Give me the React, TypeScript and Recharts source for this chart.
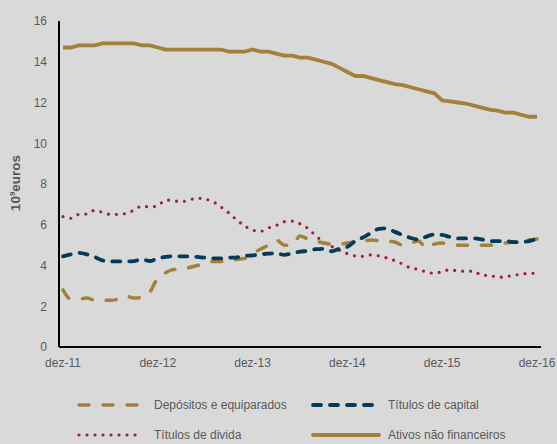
import { LineChart, Line, XAxis, YAxis } from 'recharts';

const MONTHS = ['jan', 'fev', 'mar', 'abr', 'mai', 'jun', 'jul', 'ago', 'set', 'out', 'nov', 'dez'];
const YEARS = [12, 13, 14, 15, 16];
const PERIODS = ['dez-11', ...YEARS.flatMap((y) => MONTHS.map((m) => `${m}-${y}`))];
const X_TICKS = ['dez-11', 'dez-12', 'dez-13', 'dez-14', 'dez-15', 'dez-16'];
const Y_TICKS = [0, 2, 4, 6, 8, 10, 12, 14, 16];

// 10^9 euros, monthly dez-11 .. dez-16
const DEPOSITOS = [
  2.8, 2.35, 2.35, 2.4, 2.3, 2.3, 2.3, 2.35, 2.5, 2.4, 2.45, 2.7,
  3.4, 3.65, 3.8, 3.8, 3.9, 4.0, 4.1, 4.2, 4.2, 4.2, 4.3, 4.35,
  4.6, 4.8, 5.0, 5.25, 5.0, 5.0, 5.45, 5.3, 5.2, 5.1, 5.05, 5.05,
  5.1, 5.15, 5.2, 5.25, 5.22, 5.2, 5.15, 5.0, 5.1, 5.2, 4.85, 5.05,
  5.1, 5.0, 5.0, 5.0, 5.0, 5.0, 5.0, 5.05, 5.1, 5.15, 5.2, 5.25, 5.3,
];
const TITULOS_CAPITAL = [
  4.45, 4.55, 4.62, 4.55, 4.42, 4.25, 4.2, 4.2, 4.2, 4.22, 4.3, 4.22,
  4.35, 4.42, 4.45, 4.45, 4.45, 4.42, 4.38, 4.35, 4.35, 4.38, 4.4, 4.47,
  4.5, 4.55, 4.58, 4.6, 4.52, 4.6, 4.68, 4.72, 4.8, 4.82, 4.7, 4.82,
  4.92, 5.2, 5.38, 5.6, 5.8, 5.82, 5.65, 5.5, 5.35, 5.28, 5.42, 5.52,
  5.5, 5.4, 5.33, 5.33, 5.33, 5.28, 5.2, 5.2, 5.2, 5.15, 5.15, 5.2, 5.3,
];
const TITULOS_DIVIDA = [
  6.4, 6.32, 6.51, 6.53, 6.71, 6.61, 6.51, 6.51, 6.56, 6.72, 6.92, 6.87,
  6.94, 7.21, 7.18, 7.13, 7.23, 7.3, 7.26, 7.13, 6.87, 6.58, 6.23, 5.94,
  5.74, 5.68, 5.84, 5.97, 6.15, 6.18, 6.05, 5.82, 5.46, 5.14, 4.94, 4.75,
  4.58, 4.47, 4.45, 4.52, 4.47, 4.37, 4.24, 4.07, 3.88, 3.81, 3.68, 3.62,
  3.7, 3.8, 3.73, 3.72, 3.72, 3.52, 3.52, 3.42, 3.45, 3.52, 3.57, 3.62, 3.62,
];
const ATIVOS_NAO_FIN = [
  14.7, 14.7, 14.8, 14.8, 14.8, 14.9, 14.9, 14.9, 14.9, 14.9, 14.8, 14.8,
  14.7, 14.6, 14.6, 14.6, 14.6, 14.6, 14.6, 14.6, 14.6, 14.5, 14.5, 14.5,
  14.6, 14.5, 14.5, 14.4, 14.3, 14.3, 14.2, 14.2, 14.1, 14.0, 13.9, 13.7,
  13.5, 13.3, 13.3, 13.2, 13.1, 13.0, 12.9, 12.85, 12.75, 12.65, 12.55, 12.45,
  12.1, 12.05, 12.0, 11.95, 11.85, 11.75, 11.65, 11.6, 11.5, 11.5, 11.4, 11.3, 11.3,
];

const GOLD = '#a3803b';
const NAVY = '#053a58';
const RED = '#9c2230';
const TEXT = '#595959';
const FONT = '"Liberation Sans", Arial, sans-serif';

const data = PERIODS.map((p, i) => ({
  period: p,
  depositos: DEPOSITOS[i],
  capital: TITULOS_CAPITAL[i],
  divida: TITULOS_DIVIDA[i],
  ativos: ATIVOS_NAO_FIN[i],
}));

const LEGEND = [
  { label: 'Depósitos e equiparados', color: GOLD, dash: '10 14', width: 3.5, x: 77, y: 405, iconW: 70 },
  { label: 'Títulos de capital', color: NAVY, dash: '8 9', width: 3.8, x: 311, y: 405, iconW: 70 },
  { label: 'Títulos de divida', color: RED, dash: '0 8', width: 3.2, x: 77, y: 435, iconW: 64 },
  { label: 'Ativos não financeiros', color: GOLD, dash: undefined, width: 3.8, x: 311, y: 435, iconW: 70 },
];

function ChartLegend() {
  return (
    <svg width={557} height={444} style={{ position: 'absolute', left: 0, top: 0, pointerEvents: 'none' }}>
      {LEGEND.map((item) => (
        <g key={item.label}>
          <line
            x1={item.x + 2}
            x2={item.x + item.iconW - 2}
            y1={item.y}
            y2={item.y}
            stroke={item.color}
            strokeWidth={item.width}
            strokeDasharray={item.dash}
            strokeLinecap="round"
          />
          <text x={item.x + 77} y={item.y + 4} fontSize={12} fill={TEXT} fontFamily={FONT}>
            {item.label}
          </text>
        </g>
      ))}
    </svg>
  );
}

export default function App() {
  return (
    <div style={{ position: 'absolute', left: 0, top: 0, width: 557, height: 444, background: '#d9d9d9' }}>
      <LineChart width={557} height={444} data={data} margin={{ top: 21, right: 16, left: 19, bottom: 67 }}>
        <XAxis
          dataKey="period"
          ticks={X_TICKS}
          interval={0}
          padding={{ left: 4, right: 4 }}
          tickLine={false}
          tickSize={0}
          tickMargin={11}
          height={30}
          axisLine={{ stroke: '#000', strokeWidth: 2 }}
          tick={{ fontSize: 12, fill: TEXT, fontFamily: FONT }}
        />
        <YAxis
          domain={[0, 16]}
          ticks={Y_TICKS}
          width={40}
          tickLine={false}
          tickSize={0}
          tickMargin={12}
          axisLine={{ stroke: '#000', strokeWidth: 2 }}
          tick={{ fontSize: 12, fill: TEXT, fontFamily: FONT }}
        />
        <text
          x={20}
          y={183}
          transform="rotate(-90, 20, 183)"
          textAnchor="middle"
          fontSize={13.5}
          fontWeight="bold"
          fill={TEXT}
          fontFamily={FONT}
        >
          <tspan>10</tspan>
          <tspan dy={-5} fontSize={8}>9</tspan>
          <tspan dy={5}>euros</tspan>
        </text>
        <Line type="linear" dataKey="ativos" stroke={GOLD} strokeWidth={3.8} dot={false} isAnimationActive={false} />
        <Line type="monotone" dataKey="divida" stroke={RED} strokeWidth={3.2} strokeDasharray="0 8" strokeLinecap="round" dot={false} isAnimationActive={false} />
        <Line type="monotone" dataKey="depositos" stroke={GOLD} strokeWidth={3.5} strokeDasharray="10 14" strokeLinecap="round" dot={false} isAnimationActive={false} />
        <Line type="monotone" dataKey="capital" stroke={NAVY} strokeWidth={3.8} strokeDasharray="8 9" strokeLinecap="round" dot={false} isAnimationActive={false} />
      </LineChart>
      <ChartLegend />
    </div>
  );
}
